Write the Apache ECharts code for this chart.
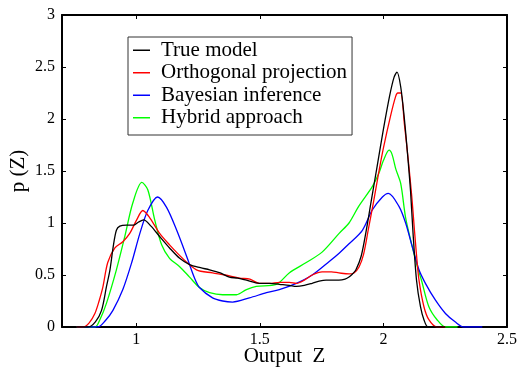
<!DOCTYPE html>
<html>
<head>
<meta charset="utf-8">
<script src="https://cdn.jsdelivr.net/npm/echarts@6/dist/echarts.min.js"></script>
<style>html,body{margin:0;padding:0;background:#fff}#c{width:522px;height:373px}</style>
</head>
<body>
<div id="c"></div>
<script>
var seriesNames = ['True model', 'Orthogonal projection', 'Bayesian inference', 'Hybrid approach'];
var xTicks = [1, 1.5, 2, 2.5];
var yTicks = [0, 0.5, 1, 1.5, 2, 2.5, 3];

var trueX = [0.76,0.805,0.835,0.86,0.88,0.894,0.907,0.92,0.934,0.96,0.99,1.01,1.03,1.06,1.095,1.135,1.176,1.216,1.26,1.297,1.34,1.377,1.41,1.446,1.498,1.54,1.579,1.62,1.648,1.68,1.712,1.74,1.768,1.80,1.82,1.845,1.861,1.875,1.889,1.91,1.93,1.95,1.975,2.0,2.025,2.043,2.055,2.07,2.085,2.10,2.11,2.12,2.134,2.15,2.164,2.181,2.25];
var trueY = [0,0,0.05,0.16,0.39,0.55,0.77,0.93,0.97,0.98,0.98,1.01,1.03,0.97,0.87,0.76,0.66,0.60,0.57,0.55,0.52,0.48,0.47,0.45,0.42,0.42,0.41,0.40,0.39,0.40,0.42,0.44,0.45,0.45,0.45,0.46,0.48,0.51,0.55,0.68,0.92,1.2,1.55,1.9,2.22,2.40,2.45,2.31,2.0,1.6,1.3,0.9,0.45,0.195,0.07,0,0];

var orthoX = [0.76,0.785,0.81,0.833,0.85,0.865,0.885,0.914,0.946,0.974,1.002,1.027,1.055,1.095,1.135,1.188,1.244,1.309,1.36,1.418,1.46,1.498,1.54,1.579,1.62,1.648,1.68,1.712,1.752,1.79,1.82,1.861,1.881,1.902,1.92,1.94,1.96,1.98,2.0,2.03,2.05,2.058,2.07,2.085,2.10,2.115,2.125,2.133,2.144,2.164,2.184,2.216,2.25];
var orthoY = [0,0,0.04,0.13,0.25,0.38,0.62,0.76,0.82,0.90,1.03,1.12,1.05,0.90,0.79,0.66,0.55,0.52,0.50,0.47,0.46,0.42,0.42,0.43,0.43,0.42,0.45,0.50,0.53,0.53,0.52,0.51,0.52,0.58,0.70,0.95,1.2,1.47,1.72,2.04,2.22,2.25,2.25,1.95,1.62,1.25,0.95,0.72,0.45,0.195,0.07,0,0];

var bayesX = [0.76,0.845,0.875,0.906,0.946,0.982,1.015,1.047,1.087,1.123,1.164,1.204,1.236,1.256,1.309,1.35,1.39,1.458,1.527,1.579,1.648,1.712,1.781,1.821,1.861,1.915,1.955,1.996,2.02,2.063,2.09,2.117,2.144,2.17,2.21,2.251,2.29,2.325,2.4];
var bayesY = [0,0,0.06,0.16,0.36,0.62,0.9,1.12,1.25,1.15,0.93,0.68,0.47,0.38,0.28,0.25,0.24,0.28,0.33,0.36,0.42,0.50,0.63,0.71,0.80,0.93,1.125,1.25,1.285,1.16,1.0,0.77,0.55,0.42,0.26,0.13,0.05,0,0];

var hybridX = [0.76,0.833,0.855,0.88,0.92,0.954,0.986,1.023,1.047,1.075,1.103,1.135,1.176,1.216,1.256,1.297,1.35,1.406,1.446,1.486,1.567,1.619,1.688,1.752,1.821,1.861,1.90,1.955,1.982,2.0,2.023,2.035,2.05,2.07,2.09,2.117,2.135,2.154,2.184,2.217,2.251,2.3];
var hybridY = [0,0,0.08,0.23,0.55,0.87,1.19,1.39,1.32,1.03,0.79,0.66,0.58,0.48,0.38,0.33,0.31,0.31,0.36,0.39,0.41,0.52,0.62,0.72,0.90,1.0,1.16,1.35,1.48,1.6,1.70,1.66,1.52,1.38,1.05,0.77,0.6,0.45,0.195,0.07,0,0];

var colors = ['#000000', '#ff0000', '#0000ff', '#00ff00'];
var xs = [trueX, orthoX, bayesX, hybridX];
var ys = [trueY, orthoY, bayesY, hybridY];

function pairs(x, y) { return x.map(function (v, i) { return [v, y[i]]; }); }

var FONT = 'Liberation Serif';
var chart = echarts.init(document.getElementById('c'), null, { renderer: 'canvas' });

var series = seriesNames.map(function (n, i) {
  return {
    name: n, type: 'line', data: pairs(xs[i], ys[i]),
    showSymbol: false, smooth: 0.3, clip: true,
    lineStyle: { color: colors[i], width: 1.3 },
    itemStyle: { color: colors[i] },
    z: 10 - i
  };
});

chart.setOption({
  animation: false,
  backgroundColor: '#ffffff',
  textStyle: { fontFamily: FONT, color: '#000' },
  grid: { left: 62, right: 15, top: 15, bottom: 46, containLabel: false, outerBoundsMode: 'none' },
  legend: {
    data: seriesNames,
    orient: 'vertical',
    left: 128, top: 37,
    padding: [2, 5, 6, 5],
    itemGap: 0,
    itemWidth: 17, itemHeight: 1.5,
    icon: 'rect',
    borderColor: '#333', borderWidth: 1,
    backgroundColor: '#fff',
    textStyle: { fontFamily: FONT, fontSize: 21, color: '#000', lineHeight: 22.5, padding: [0, 0, 0, 6] }
  },
  xAxis: [{
    type: 'value', min: 0.7, max: 2.5,
    name: 'Output  Z', nameLocation: 'middle', nameGap: 19, nameMoveOverlap: false,
    nameTextStyle: { fontFamily: FONT, fontSize: 21, color: '#000' },
    axisLine: { onZero: false, lineStyle: { color: '#000', width: 2 } },
    axisTick: { inside: true, length: 4, customValues: xTicks, lineStyle: { color: '#000' } },
    axisLabel: { customValues: xTicks, fontFamily: FONT, fontSize: 16, color: '#000', margin: 5 },
    splitLine: { show: false }
  }, {
    type: 'value', min: 0.7, max: 2.5, position: 'top',
    axisLine: { onZero: false, lineStyle: { color: '#000', width: 2 } },
    axisTick: { inside: true, length: 4, customValues: xTicks, lineStyle: { color: '#000' } },
    axisLabel: { show: false },
    splitLine: { show: false }
  }],
  yAxis: [{
    type: 'value', min: 0, max: 3, interval: 0.5,
    name: 'p (Z)', nameLocation: 'middle', nameGap: 33, nameRotate: 90, nameMoveOverlap: false,
    nameTextStyle: { fontFamily: FONT, fontSize: 21, color: '#000' },
    axisLine: { onZero: false, lineStyle: { color: '#000', width: 2 } },
    axisTick: { inside: true, length: 4, lineStyle: { color: '#000' } },
    axisLabel: { fontFamily: FONT, fontSize: 16, color: '#000', margin: 7,
      formatter: function (v) { return yTicks.indexOf(v) >= 0 ? String(v) : ''; } },
    splitLine: { show: false }
  }, {
    type: 'value', min: 0, max: 3, interval: 0.5, position: 'right',
    axisLine: { onZero: false, lineStyle: { color: '#000', width: 2 } },
    axisTick: { inside: true, length: 4, lineStyle: { color: '#000' } },
    axisLabel: { show: false },
    splitLine: { show: false }
  }],
  series: series
});
</script>
</body>
</html>
